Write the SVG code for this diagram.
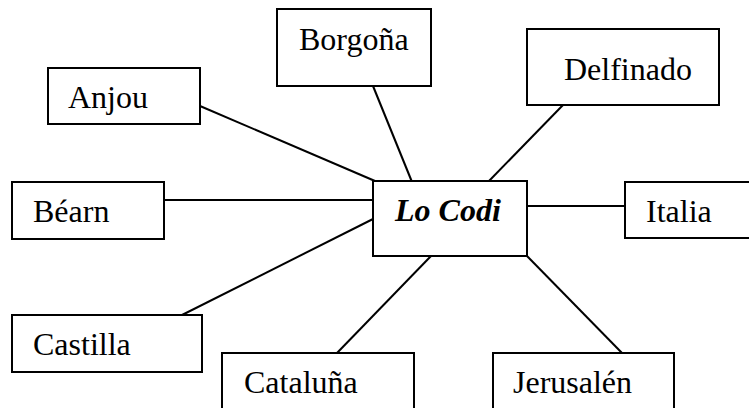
<svg xmlns="http://www.w3.org/2000/svg" width="749" height="408" viewBox="0 0 749 408">
<style>
.box{fill:#fff;stroke:#000;stroke-width:2}
.lbl{font-family:'Liberation Serif','Times New Roman',serif;font-size:32px;fill:#000}
.main{font-weight:bold;font-style:italic}
#connectors line{stroke:#000;stroke-width:2}
</style>
<rect width="749" height="408" fill="#fff"/>
<g id="connectors">
<line x1="200" y1="106" x2="375" y2="181"/>
<line x1="373" y1="86" x2="412" y2="182"/>
<line x1="563" y1="105" x2="489" y2="181"/>
<line x1="164" y1="200" x2="373" y2="200"/>
<line x1="527" y1="206" x2="625" y2="206"/>
<line x1="373" y1="219" x2="182" y2="315"/>
<line x1="431" y1="256" x2="337" y2="353"/>
<line x1="527" y1="256" x2="622" y2="353"/>
</g>
<g id="borgona"><rect class="box" x="277" y="9" width="154" height="77"/><text class="lbl" x="299" y="50">Borgoña</text></g>
<g id="anjou"><rect class="box" x="48" y="68" width="152" height="56"/><text class="lbl" x="68" y="108">Anjou</text></g>
<g id="delfinado"><rect class="box" x="527" y="29" width="192" height="76"/><text class="lbl" x="564" y="80">Delfinado</text></g>
<g id="bearn"><rect class="box" x="12" y="182" width="152" height="57"/><text class="lbl" x="33" y="222">Béarn</text></g>
<g id="locodi"><rect class="box" x="373" y="181" width="154" height="75"/><text class="lbl main" x="395" y="221">Lo Codi</text></g>
<g id="italia"><rect class="box" x="625" y="182" width="130" height="56"/><text class="lbl" x="646" y="222">Italia</text></g>
<g id="castilla"><rect class="box" x="12" y="315" width="190" height="57"/><text class="lbl" x="33" y="355">Castilla</text></g>
<g id="cataluna"><rect class="box" x="222" y="353" width="192" height="70"/><text class="lbl" x="244" y="393">Cataluña</text></g>
<g id="jerusalen"><rect class="box" x="493" y="353" width="181" height="70"/><text class="lbl" x="513" y="393">Jerusalén</text></g>
</svg>
